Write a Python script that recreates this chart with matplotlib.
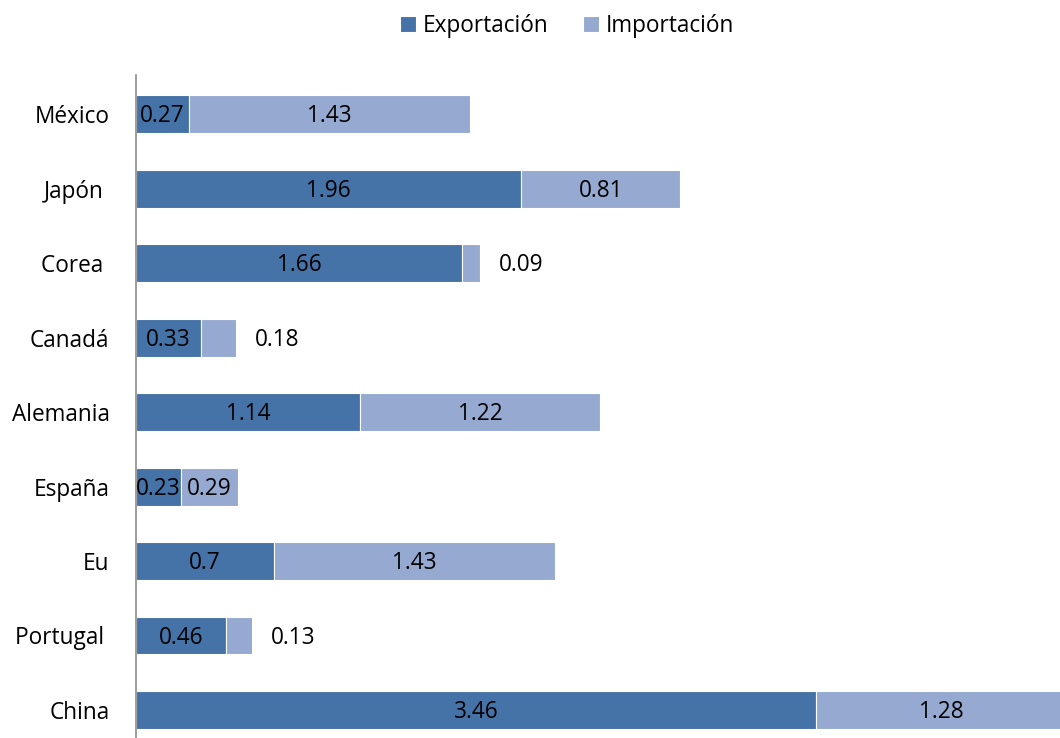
import numpy as np
import matplotlib.pyplot as plt

plt.rcParams['font.family'] = ['Open Sans', 'DejaVu Sans']

paises = ["México", "Japón ", "Corea ", "Canadá", "Alemania", "España", "Eu", "Portugal ", "China"]
exportacion = [0.27, 1.96, 1.66, 0.33, 1.14, 0.23, 0.7, 0.46, 3.46]
importacion = [1.43, 0.81, 0.09, 0.18, 1.22, 0.29, 1.43, 0.13, 1.28]

c_exp = "#4572a7"
c_imp = "#95a9d1"

fig = plt.figure(figsize=(10.6, 7.38), dpi=100)
ax = fig.add_axes([0.1283, 0.0, 0.8717, 0.898])

y = np.arange(len(paises))[::-1]
h = 0.51
b1 = ax.barh(y, exportacion, height=h, color=c_exp, edgecolor="white", linewidth=0.8, label="Exportación")
b2 = ax.barh(y, importacion, left=exportacion, height=h, color=c_imp, edgecolor="white", linewidth=0.8, label="Importación")

fs = 16.3
dy = -1.5  # nudge value labels down a bit so digits sit mid-bar
for yi, e, i in zip(y, exportacion, importacion):
    ax.annotate(str(e), (e / 2, yi), xytext=(0, dy), textcoords="offset points",
                ha="center", va="center", fontsize=fs, color="black")
    if i < 0.2:
        # small segments get their label beside the bar
        ax.annotate(str(i), (e + i, yi), xytext=(13.5, dy), textcoords="offset points",
                    ha="left", va="center", fontsize=fs, color="black")
    else:
        ax.annotate(str(i), (e + i / 2, yi), xytext=(0, dy), textcoords="offset points",
                    ha="center", va="center", fontsize=fs, color="black")

ax.set_xlim(0, 4.702)
ax.set_ylim(-0.377, 8.525)
ax.set_yticks(y)
ax.set_yticklabels(paises, fontsize=fs)
ax.tick_params(axis="y", length=0, pad=19)
ax.set_xticks([])
for s in ["top", "right", "bottom"]:
    ax.spines[s].set_visible(False)
ax.spines["left"].set_color("#8c8c8c")
ax.spines["left"].set_linewidth(1.2)

fig.legend(handles=[b1, b2], loc="center", bbox_to_anchor=(0.535, 0.965), ncol=2,
           frameon=False, fontsize=fs, handlelength=0.7, handleheight=0.7,
           handletextpad=0.3, columnspacing=1.5)

fig.savefig("out.png", dpi=100)
